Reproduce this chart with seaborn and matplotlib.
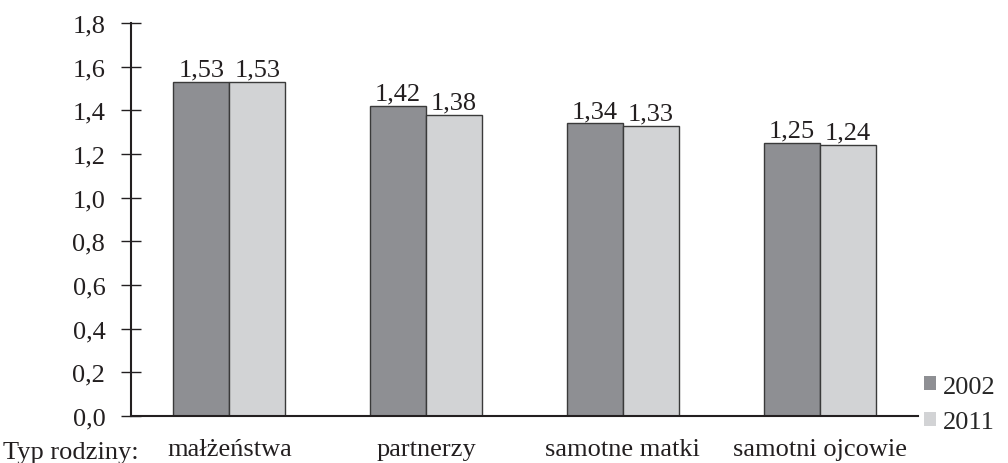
import pandas as pd
import seaborn as sns
import matplotlib.pyplot as plt

# dane
typy = ['małżeństwa', 'partnerzy', 'samotne matki', 'samotni ojcowie']
lata = ['2002', '2011']
v2002 = [1.53, 1.42, 1.34, 1.25]
v2011 = [1.53, 1.38, 1.33, 1.24]
yticks = [0.0, 0.2, 0.4, 0.6, 0.8, 1.0, 1.2, 1.4, 1.6, 1.8]

kolory = ['#8e8f93', '#d2d3d5']

df = pd.DataFrame({
    'typ': typy * 2,
    'rok': [lata[0]] * len(typy) + [lata[1]] * len(typy),
    'wartosc': v2002 + v2011,
})

sns.set_style('white')
plt.rcParams['font.family'] = ['Liberation Serif', 'DejaVu Serif']
fs = 19

fig = plt.figure(figsize=(10.08, 4.64), dpi=100)
ax = fig.add_axes([131 / 1008, 1 - 417 / 464, (918 - 131) / 1008, (417 - 24) / 464])

sns.barplot(data=df, x='typ', y='wartosc', hue='rok', palette=kolory,
            width=0.57, edgecolor='#3a3a3a', linewidth=1.0, saturation=1,
            ax=ax)

for cont in ax.containers:
    ax.bar_label(cont, labels=[f'{v:.2f}'.replace('.', ',') for v in cont.datavalues],
                 padding=1, fontsize=fs, color='#231f20')

ax.set_ylim(0, 1.8)
ax.set_yticks(yticks)
ax.set_yticklabels([f'{t:.1f}'.replace('.', ',') for t in yticks])
ax.set_xlabel('')
ax.set_ylabel('')
sns.despine(ax=ax)
for s in ['left', 'bottom']:
    ax.spines[s].set_linewidth(1.5)
    ax.spines[s].set_color('#231f20')
ax.tick_params(axis='y', direction='inout', length=15, width=1.0, pad=11,
               labelsize=fs, colors='#231f20', left=True)
ax.tick_params(axis='x', length=0, pad=16, labelsize=fs, colors='#231f20')

fig.text(0.003, 1 - 459 / 464, 'Typ rodziny:', va='baseline', ha='left',
         fontsize=fs, color='#231f20')

h, l = ax.get_legend_handles_labels()
for p in h:
    p.set_edgecolor('none')
ax.legend(h, l, loc='lower left', bbox_to_anchor=(924 / 1008, 1 - 434 / 464),
          bbox_transform=fig.transFigure, frameon=False, fontsize=fs,
          handlelength=0.45, handleheight=0.45, handletextpad=0.25,
          labelspacing=0.5, borderaxespad=0, borderpad=0)

plt.savefig('out.png', dpi=100)
